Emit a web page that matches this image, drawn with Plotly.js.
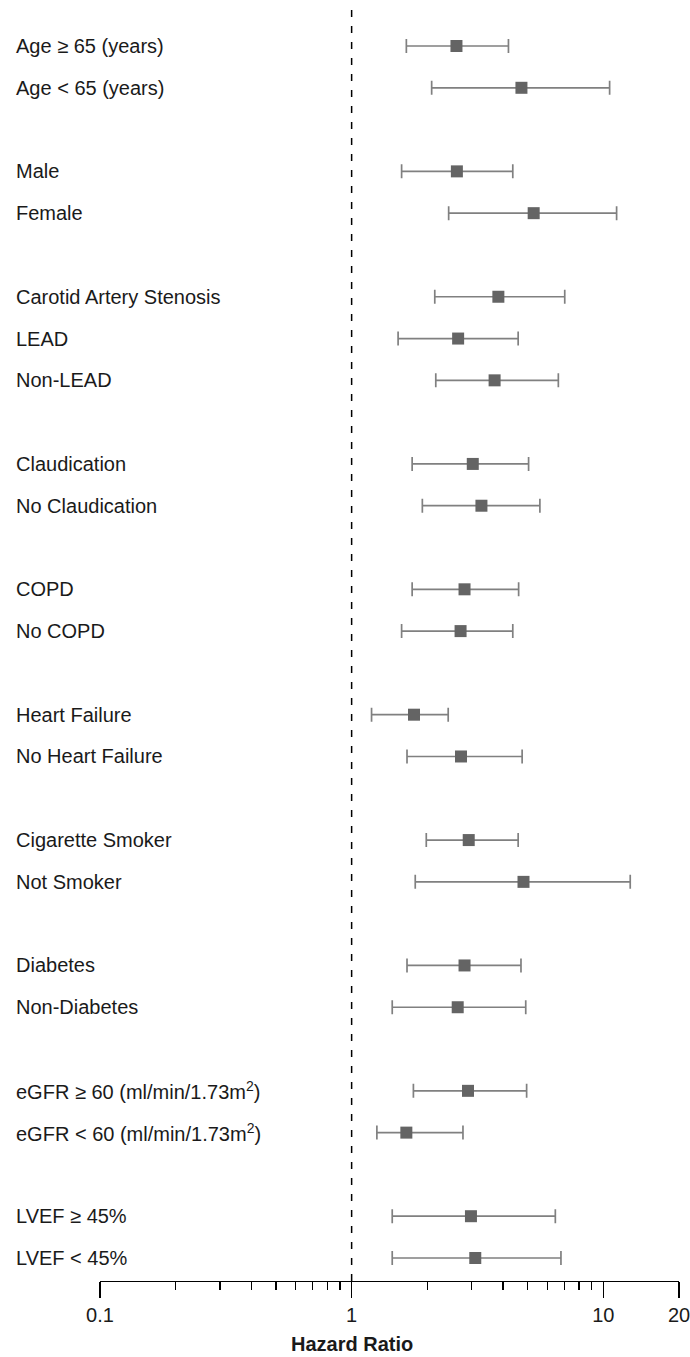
<!DOCTYPE html>
<html>
<head>
<meta charset="utf-8">
<script src="https://cdn.plot.ly/plotly-3.0.1.min.js"></script>
<style>
  html, body { margin: 0; padding: 0; background: #ffffff; }
  #chart { width: 690px; height: 1357px; }
</style>
</head>
<body>
<div id="chart"></div>
<script>
// ---- Data ----
const subgroups = [
  "Age \u2265 65 (years)", "Age < 65 (years)",
  "Male", "Female",
  "Carotid Artery Stenosis", "LEAD", "Non-LEAD",
  "Claudication", "No Claudication",
  "COPD", "No COPD",
  "Heart Failure", "No Heart Failure",
  "Cigarette Smoker", "Not Smoker",
  "Diabetes", "Non-Diabetes",
  "eGFR \u2265 60 (ml/min/1.73m<sup>2</sup>)", "eGFR < 60 (ml/min/1.73m<sup>2</sup>)",
  "LVEF \u2265 45%", "LVEF < 45%"
];
const groups = [
  "Age", "Age",
  "Sex", "Sex",
  "Vascular", "Vascular", "Vascular",
  "Claudication", "Claudication",
  "COPD", "COPD",
  "HF", "HF",
  "Smoking", "Smoking",
  "Diabetes", "Diabetes",
  "eGFR", "eGFR",
  "LVEF", "LVEF"
];
const hazardRatio = [2.61, 4.73, 2.62, 5.29, 3.83, 2.65, 3.70, 3.03, 3.28, 2.81, 2.71,
                     1.77, 2.72, 2.92, 4.82, 2.81, 2.64, 2.90, 1.65, 2.98, 3.10];
const ciLower     = [1.65, 2.08, 1.58, 2.43, 2.14, 1.53, 2.16, 1.74, 1.91, 1.74, 1.58,
                     1.20, 1.66, 1.98, 1.79, 1.66, 1.45, 1.76, 1.26, 1.45, 1.45];
const ciUpper     = [4.20, 10.6, 4.37, 11.3, 7.03, 4.59, 6.63, 5.05, 5.60, 4.61, 4.37,
                     2.42, 4.76, 4.59, 12.8, 4.71, 4.92, 4.96, 2.77, 6.45, 6.79];
const tickValues  = [0.1, 1, 10, 20];
const tickLabels  = ["0.1", "1", "10", "20"];
const minorTicks  = [0.2, 0.3, 0.4, 0.5, 0.6, 0.7, 0.8, 0.9, 2, 3, 4, 5, 6, 7, 8, 9];
const axisTitle   = "Hazard Ratio";

// ---- Row positions: one blank row between groups ----
const rowPos = [];
let k = 0;
for (let i = 0; i < subgroups.length; i++) {
  if (i > 0) k += (groups[i] === groups[i - 1]) ? 1 : 2;
  rowPos.push(k);
}
const lastRow = rowPos[rowPos.length - 1];

const W = 690, H = 1357;
const M = { l: 100, r: 11, t: 10, b: 76 };
const plotW = W - M.l - M.r;
const plotH = H - M.t - M.b;
const rowPx = 41.8;

const FONT = "Liberation Sans, Arial, Helvetica, sans-serif";

const trace = {
  type: "scatter",
  mode: "markers",
  x: hazardRatio,
  y: rowPos,
  marker: { symbol: "square", size: 12, color: "#646464", line: { width: 0 } },
  error_x: {
    type: "data",
    symmetric: false,
    array: hazardRatio.map((v, i) => ciUpper[i] - v),
    arrayminus: hazardRatio.map((v, i) => v - ciLower[i]),
    color: "#808080",
    thickness: 1.7,
    width: 7
  },
  hoverinfo: "skip",
  showlegend: false
};

const annotations = subgroups.map((s, i) => ({
  text: s,
  xref: "paper", yref: "y",
  x: (14 - M.l) / plotW, y: rowPos[i],
  xanchor: "left", yanchor: "middle",
  showarrow: false,
  font: { family: FONT, size: 20, color: "#1a1a1a" }
}));
annotations.push({
  text: "<b>" + axisTitle + "</b>",
  xref: "x", yref: "paper",
  x: 0, y: -(1344 - (H - M.b)) / plotH,
  xanchor: "center", yanchor: "middle",
  showarrow: false,
  font: { family: FONT, size: 20, color: "#1a1a1a" }
});

const layout = {
  width: W, height: H,
  margin: M,
  paper_bgcolor: "#ffffff",
  plot_bgcolor: "#ffffff",
  showlegend: false,
  xaxis: {
    type: "log",
    range: [Math.log10(0.1), Math.log10(20)],
    autorange: false,
    tickmode: "array",
    tickvals: tickValues,
    ticktext: tickLabels,
    ticklabeloverflow: "allow",
    ticks: "outside",
    ticklen: 16,
    tickwidth: 1.3,
    tickcolor: "#000000",
    showline: true,
    linecolor: "#000000",
    linewidth: 1.3,
    showgrid: false,
    zeroline: false,
    tickfont: { family: FONT, size: 20, color: "#1a1a1a" },
    minor: {
      tickmode: "array",
      tickvals: minorTicks,
      ticks: "outside",
      ticklen: 8,
      tickwidth: 1.3,
      tickcolor: "#000000",
      showgrid: false
    },
    fixedrange: true
  },
  yaxis: {
    range: [lastRow + (1281 - 1258) / rowPx, -(46 - M.t) / rowPx],
    autorange: false,
    showticklabels: false,
    ticks: "",
    showgrid: false,
    zeroline: false,
    showline: false,
    fixedrange: true
  },
  shapes: [{
    type: "line",
    xref: "x", yref: "paper",
    x0: 1, x1: 1, y0: 0, y1: 1,
    line: { color: "#000000", width: 1.5, dash: "7px,9px" }
  }],
  annotations: annotations
};

Plotly.newPlot("chart", [trace], layout, { displayModeBar: false, staticPlot: true });
</script>
</body>
</html>
